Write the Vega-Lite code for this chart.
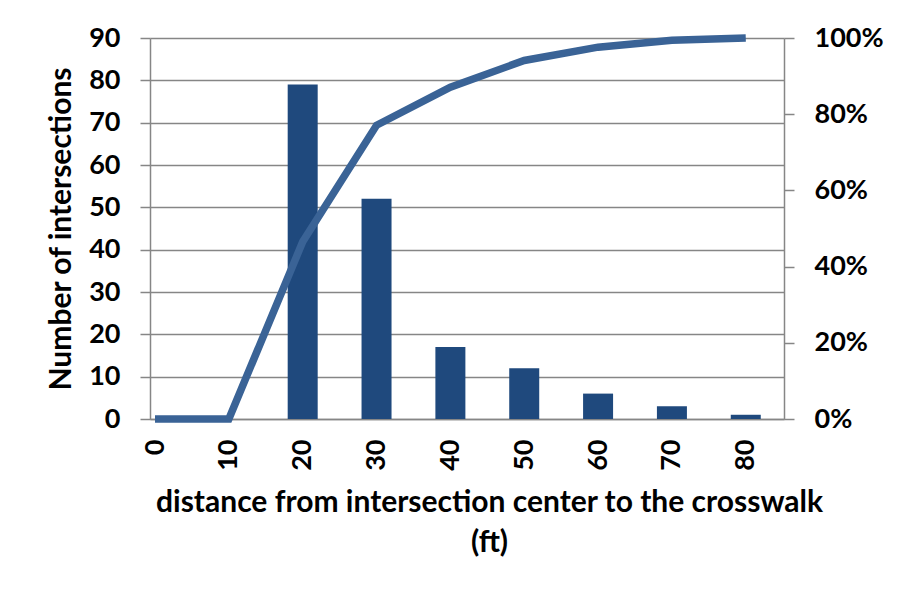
{
  "$schema": "https://vega.github.io/schema/vega-lite/v6.json",
  "width": 634,
  "height": 381,
  "autosize": {"type": "none"},
  "padding": {"left": 150, "top": 38, "right": 115, "bottom": 171},
  "background": "white",
  "data": {
    "values": [
      {"distance": 0, "count": 0, "cum": 0},
      {"distance": 10, "count": 0, "cum": 0},
      {"distance": 20, "count": 79, "cum": 0.465},
      {"distance": 30, "count": 52, "cum": 0.771},
      {"distance": 40, "count": 17, "cum": 0.871},
      {"distance": 50, "count": 12, "cum": 0.941},
      {"distance": 60, "count": 6, "cum": 0.976},
      {"distance": 70, "count": 3, "cum": 0.994},
      {"distance": 80, "count": 1, "cum": 1.0}
    ]
  },
  "config": {
    "view": {"stroke": null},
    "axis": {
      "labelFont": "Lato",
      "labelFontWeight": "bold",
      "labelFontSize": 27,
      "labelColor": "black",
      "titleFont": "Lato",
      "titleFontWeight": "bold",
      "titleFontSize": 30,
      "titleColor": "black",
      "domainColor": "#868686",
      "domainWidth": 1.5,
      "tickColor": "#868686",
      "tickWidth": 1.5,
      "gridColor": "#868686",
      "gridWidth": 1.3,
      "gridOpacity": 1
    }
  },
  "layer": [
    {
      "mark": {"type": "bar", "width": 30, "color": "#1F497D"},
      "encoding": {
        "x": {
          "field": "distance",
          "type": "quantitative",
          "scale": {"domain": [0, 84.5], "nice": false, "zero": false},
          "axis": {
            "values": [0, 10, 20, 30, 40, 50, 60, 70, 80],
            "labelAngle": -90,
            "labelPadding": 20,
            "ticks": false,
            "grid": false,
            "domain": true,
            "title": ["distance from intersection center to the crosswalk", "(ft)"],
            "titlePadding": 17,
            "titleLineHeight": 40,
            "titleX": 339
          }
        },
        "y": {
          "field": "count",
          "type": "quantitative",
          "scale": {"domain": [0, 90], "nice": false},
          "axis": {
            "values": [0, 10, 20, 30, 40, 50, 60, 70, 80, 90],
            "title": "Number of intersections",
            "tickSize": 10,
            "labelPadding": 20,
            "titlePadding": 12,
            "grid": true
          }
        }
      }
    },
    {
      "mark": {"type": "line", "color": "#3A6396", "strokeWidth": 7.5, "clip": false},
      "encoding": {
        "x": {"field": "distance", "type": "quantitative"},
        "y": {
          "field": "cum",
          "type": "quantitative",
          "scale": {"domain": [0, 1], "nice": false},
          "axis": {
            "orient": "right",
            "values": [0, 0.2, 0.4, 0.6, 0.8, 1.0],
            "format": ".0%",
            "title": null,
            "tickSize": 10,
            "labelPadding": 20,
            "grid": false
          }
        }
      }
    }
  ],
  "resolve": {"scale": {"y": "independent"}}
}
